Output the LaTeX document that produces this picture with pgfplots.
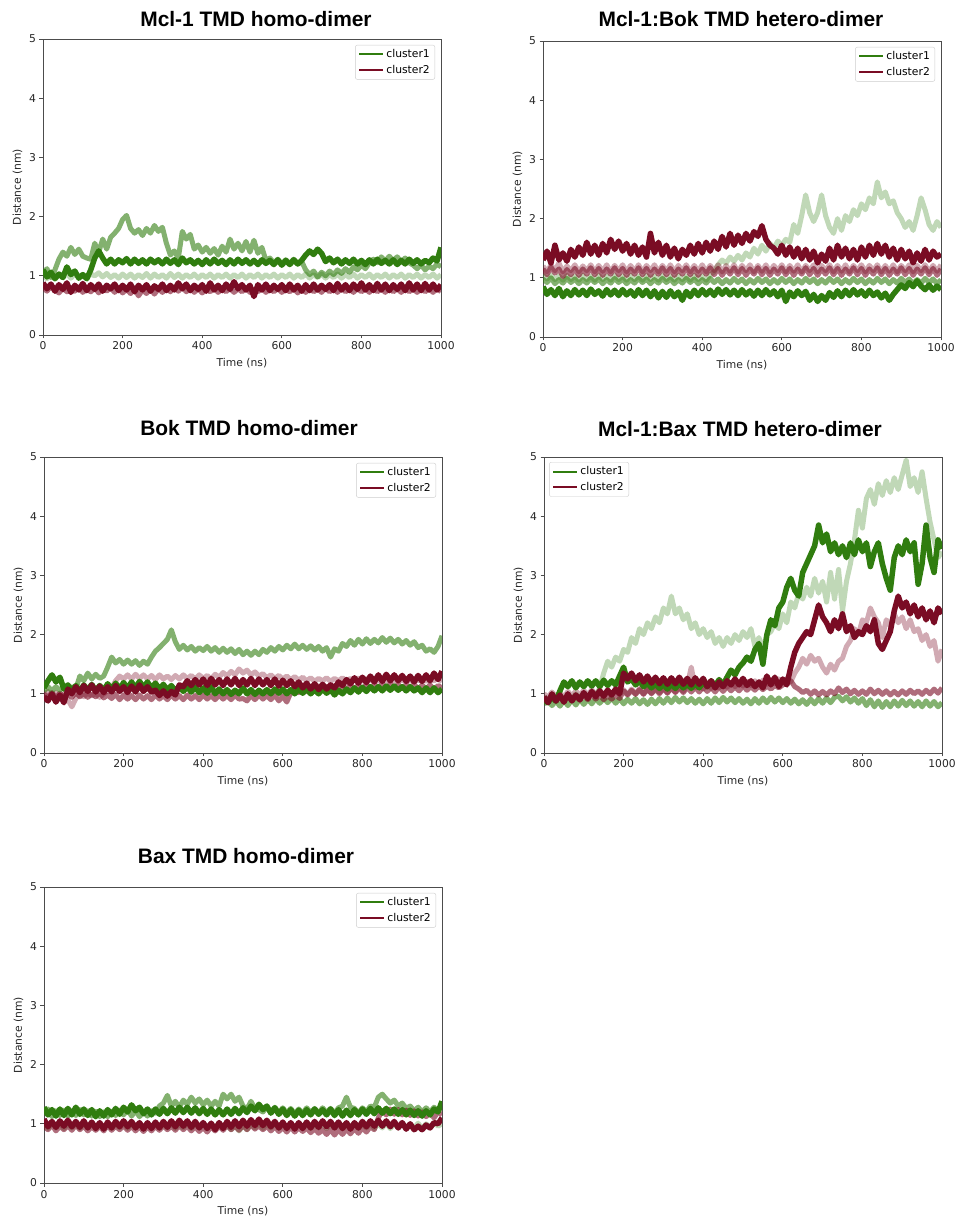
\documentclass[border=0pt]{standalone}
\usepackage{pgfplots}
\pgfplotsset{compat=1.18}
\usepackage{pgfplotstable}
\usepackage{fontspec}
\setmainfont{DejaVu Sans}
\newfontfamily\titlefont{Liberation Sans}
\definecolor{cg}{RGB}{48,125,15}
\definecolor{cr}{RGB}{122,12,36}

\pgfplotstableread{
t g1 g2 g3 r1 r2
0 1.10 1.05 1.00 0.88 0.80
10 0.98 1.12 0.95 0.78 0.74
20 1.06 0.97 1.03 0.86 0.82
30 0.95 1.10 0.96 0.74 0.76
40 1.03 1.28 1.02 0.85 0.71
50 0.97 1.40 0.97 0.77 0.79
60 1.15 1.33 1.04 0.88 0.73
70 1.02 1.48 0.96 0.72 0.80
80 1.08 1.36 1.03 0.84 0.74
90 0.96 1.45 0.97 0.76 0.81
100 1.02 1.33 1.02 0.87 0.72
110 0.95 1.30 0.96 0.75 0.78
120 1.10 1.28 1.03 0.85 0.73
130 1.30 1.55 1.00 0.77 0.80
140 1.42 1.40 1.05 0.86 0.71
150 1.30 1.62 0.98 0.74 0.79
160 1.20 1.45 1.04 0.84 0.74
170 1.28 1.65 0.97 0.78 0.80
180 1.20 1.72 1.02 0.86 0.72
190 1.27 1.80 0.96 0.75 0.79
200 1.22 1.95 1.03 0.84 0.71
210 1.29 2.02 0.97 0.76 0.77
220 1.20 1.80 1.03 0.86 0.70
230 1.28 1.72 0.96 0.73 0.78
240 1.21 1.78 1.02 0.84 0.66
250 1.27 1.68 0.97 0.76 0.76
260 1.20 1.80 1.04 0.85 0.70
270 1.28 1.72 0.96 0.74 0.78
280 1.22 1.85 1.03 0.83 0.69
290 1.27 1.75 0.97 0.77 0.78
300 1.20 1.82 1.02 0.86 0.72
310 1.28 1.55 0.96 0.75 0.79
320 1.21 1.35 1.04 0.84 0.73
330 1.27 1.42 0.97 0.76 0.80
340 1.19 1.30 1.03 0.88 0.74
350 1.30 1.75 0.96 0.78 0.81
360 1.22 1.62 1.02 0.86 0.73
370 1.27 1.70 0.97 0.75 0.79
380 1.20 1.45 1.03 0.84 0.72
390 1.26 1.52 0.96 0.77 0.78
400 1.19 1.40 1.02 0.85 0.71
410 1.27 1.48 0.97 0.74 0.77
420 1.20 1.38 1.03 0.88 0.73
430 1.28 1.46 0.96 0.76 0.79
440 1.21 1.35 1.02 0.84 0.72
450 1.26 1.50 0.97 0.75 0.78
460 1.19 1.40 1.03 0.86 0.73
470 1.27 1.62 0.96 0.77 0.79
480 1.20 1.45 1.02 0.90 0.72
490 1.28 1.55 0.97 0.78 0.78
500 1.21 1.42 1.03 0.85 0.73
510 1.27 1.58 0.96 0.76 0.79
520 1.20 1.40 1.02 0.84 0.72
530 1.26 1.60 0.97 0.65 0.77
540 1.19 1.38 1.03 0.85 0.73
550 1.27 1.48 0.96 0.76 0.79
560 1.21 1.26 1.02 0.86 0.72
570 1.26 1.30 0.97 0.75 0.78
580 1.19 1.22 1.03 0.84 0.73
590 1.27 1.28 0.96 0.77 0.79
600 1.18 1.20 1.02 0.85 0.72
610 1.26 1.27 0.97 0.75 0.77
620 1.19 1.21 1.03 0.86 0.73
630 1.27 1.28 0.96 0.76 0.79
640 1.20 1.20 1.02 0.84 0.71
650 1.26 1.24 0.97 0.74 0.78
660 1.35 1.10 1.03 0.85 0.72
670 1.42 1.02 0.96 0.75 0.79
680 1.36 1.08 1.02 0.86 0.73
690 1.45 0.98 0.97 0.76 0.78
700 1.38 1.06 1.03 0.84 0.72
710 1.24 1.00 0.96 0.77 0.79
720 1.30 1.08 1.02 0.85 0.73
730 1.22 1.02 0.97 0.75 0.78
740 1.28 1.10 1.03 0.87 0.72
750 1.20 1.04 0.96 0.76 0.79
760 1.27 1.12 1.02 0.85 0.73
770 1.21 1.06 0.97 0.75 0.78
780 1.28 1.15 1.03 0.86 0.72
790 1.20 1.10 0.96 0.77 0.79
800 1.26 1.18 1.02 0.88 0.73
810 1.19 1.12 0.97 0.76 0.78
820 1.27 1.22 1.03 0.85 0.72
830 1.20 1.28 0.96 0.75 0.79
840 1.28 1.22 1.02 0.87 0.73
850 1.21 1.32 0.97 0.76 0.78
860 1.26 1.25 1.03 0.86 0.72
870 1.20 1.33 0.96 0.75 0.79
880 1.27 1.26 1.02 0.85 0.73
890 1.19 1.32 0.97 0.77 0.78
900 1.26 1.24 1.03 0.86 0.72
910 1.20 1.30 0.96 0.75 0.79
920 1.28 1.22 1.02 0.88 0.73
930 1.21 1.18 0.97 0.76 0.78
940 1.27 1.12 1.03 0.86 0.72
950 1.20 1.18 0.96 0.75 0.79
960 1.26 1.10 1.02 0.87 0.73
970 1.22 1.16 0.97 0.76 0.78
980 1.30 1.12 1.03 0.86 0.72
990 1.25 1.20 0.96 0.76 0.79
1000 1.48 1.15 1.02 0.85 0.73
}\tA

\pgfplotstableread{
t g1 g2 g3 r1 r2 r3
0 0.85 0.98 1.05 1.30 1.15 1.20
10 0.72 0.92 0.98 1.45 1.05 1.10
20 0.80 1.00 1.04 1.25 1.18 1.22
30 0.70 0.90 0.97 1.55 1.08 1.12
40 0.82 0.97 1.03 1.30 1.15 1.25
50 0.68 0.91 0.96 1.42 1.02 1.10
60 0.78 0.99 1.04 1.28 1.14 1.20
70 0.70 0.92 0.97 1.48 1.05 1.12
80 0.80 0.98 1.03 1.35 1.16 1.22
90 0.71 0.90 0.96 1.52 1.04 1.10
100 0.79 0.97 1.04 1.38 1.15 1.20
110 0.70 0.91 0.97 1.60 1.06 1.12
120 0.81 0.99 1.03 1.40 1.17 1.22
130 0.72 0.92 0.96 1.55 1.05 1.10
140 0.78 0.98 1.04 1.38 1.16 1.21
150 0.69 0.90 0.97 1.58 1.04 1.11
160 0.80 0.97 1.03 1.42 1.15 1.22
170 0.71 0.91 0.96 1.65 1.06 1.10
180 0.79 0.99 1.04 1.48 1.17 1.21
190 0.70 0.92 0.97 1.62 1.05 1.12
200 0.80 0.98 1.03 1.45 1.16 1.22
210 0.71 0.90 0.96 1.58 1.04 1.10
220 0.78 0.97 1.04 1.40 1.15 1.21
230 0.69 0.91 0.97 1.55 1.06 1.11
240 0.80 0.99 1.03 1.38 1.17 1.22
250 0.70 0.92 0.96 1.52 1.05 1.10
260 0.79 0.98 1.04 1.35 1.16 1.21
270 0.68 0.90 0.97 1.75 1.04 1.12
280 0.78 0.97 1.03 1.42 1.15 1.22
290 0.66 0.91 0.96 1.60 1.06 1.10
300 0.77 0.99 1.04 1.38 1.17 1.21
310 0.67 0.92 0.97 1.55 1.05 1.11
320 0.78 0.98 1.03 1.35 1.16 1.22
330 0.68 0.90 0.96 1.50 1.04 1.10
340 0.76 0.97 1.04 1.32 1.15 1.21
350 0.62 0.91 0.97 1.48 1.06 1.12
360 0.77 0.99 1.03 1.38 1.17 1.22
370 0.68 0.92 0.96 1.55 1.05 1.10
380 0.79 0.98 1.04 1.40 1.16 1.21
390 0.70 0.90 0.97 1.58 1.04 1.11
400 0.80 0.97 1.03 1.42 1.15 1.22
410 0.71 0.91 0.96 1.60 1.06 1.10
420 0.79 0.99 1.05 1.45 1.17 1.21
430 0.70 0.92 1.10 1.62 1.05 1.12
440 0.81 0.98 1.22 1.48 1.16 1.22
450 0.72 0.90 1.30 1.70 1.04 1.10
460 0.80 0.97 1.25 1.52 1.15 1.21
470 0.71 0.91 1.35 1.75 1.06 1.11
480 0.79 0.99 1.28 1.55 1.17 1.22
490 0.70 0.92 1.38 1.72 1.05 1.10
500 0.80 0.98 1.30 1.58 1.16 1.21
510 0.71 0.90 1.42 1.75 1.04 1.12
520 0.78 0.97 1.35 1.62 1.15 1.22
530 0.69 0.91 1.50 1.78 1.06 1.10
540 0.79 0.99 1.40 1.70 1.17 1.21
550 0.70 0.92 1.55 1.88 1.05 1.11
560 0.80 0.98 1.45 1.65 1.16 1.22
570 0.71 0.90 1.58 1.55 1.04 1.10
580 0.78 0.97 1.50 1.50 1.15 1.21
590 0.68 0.91 1.62 1.40 1.06 1.12
600 0.79 0.99 1.55 1.55 1.17 1.22
610 0.60 0.92 1.65 1.38 1.05 1.10
620 0.76 0.98 1.60 1.52 1.16 1.21
630 0.68 0.90 1.90 1.35 1.04 1.11
640 0.78 0.97 1.75 1.50 1.15 1.22
650 0.70 0.91 2.05 1.32 1.06 1.10
660 0.77 0.99 2.40 1.48 1.17 1.21
670 0.62 0.92 2.10 1.30 1.05 1.12
680 0.72 0.98 1.95 1.45 1.16 1.22
690 0.60 0.90 2.10 1.25 1.04 1.10
700 0.70 0.97 2.40 1.40 1.15 1.21
710 0.62 0.91 2.05 1.28 1.06 1.12
720 0.75 0.99 1.85 1.50 1.17 1.22
730 0.67 0.92 1.75 1.30 1.05 1.10
740 0.78 0.98 2.00 1.55 1.16 1.21
750 0.68 0.90 1.80 1.35 1.04 1.11
760 0.79 0.97 2.05 1.50 1.15 1.22
770 0.70 0.91 1.95 1.32 1.06 1.10
780 0.80 0.99 2.15 1.48 1.17 1.21
790 0.71 0.92 2.05 1.30 1.05 1.12
800 0.78 0.98 2.25 1.52 1.16 1.22
810 0.69 0.90 2.15 1.35 1.04 1.10
820 0.79 0.97 2.35 1.55 1.15 1.21
830 0.70 0.91 2.25 1.38 1.06 1.12
840 0.76 0.99 2.62 1.58 1.17 1.22
850 0.66 0.92 2.35 1.40 1.05 1.10
860 0.74 0.98 2.45 1.55 1.16 1.21
870 0.62 0.90 2.25 1.35 1.04 1.11
880 0.72 0.97 2.30 1.50 1.15 1.22
890 0.80 0.91 2.10 1.30 1.06 1.10
900 0.88 0.99 2.00 1.48 1.17 1.21
910 0.82 0.92 1.85 1.32 1.05 1.12
920 0.92 0.98 1.95 1.45 1.16 1.22
930 0.85 0.90 1.80 1.25 1.04 1.10
940 0.95 0.97 2.05 1.42 1.15 1.21
950 0.86 0.91 2.35 1.28 1.06 1.12
960 0.80 0.99 2.15 1.48 1.17 1.22
970 0.88 0.92 1.90 1.30 1.05 1.10
980 0.79 0.98 1.80 1.45 1.16 1.21
990 0.86 0.90 1.95 1.35 1.04 1.11
1000 0.80 0.97 1.85 1.40 1.15 1.22
}\tB

\pgfplotstableread{
t g1 g2 r1 r2 r3
0 1.10 1.05 0.95 1.00 0.98
10 1.22 1.12 0.88 0.94 1.04
20 1.32 1.05 1.00 1.02 0.95
30 1.20 1.12 0.86 0.93 1.02
40 1.28 1.06 0.98 1.01 0.94
50 1.08 1.13 0.85 0.95 1.00
60 1.15 1.07 1.08 1.00 0.90
70 1.05 1.12 1.00 0.94 0.78
80 1.14 1.08 1.12 1.02 0.92
90 1.04 1.30 1.02 0.95 1.00
100 1.15 1.22 1.14 1.01 0.95
110 1.06 1.35 1.04 0.94 1.02
120 1.16 1.25 1.15 1.00 0.96
130 1.05 1.33 1.03 0.95 1.01
140 1.14 1.26 1.13 1.02 0.94
150 1.06 1.30 1.02 0.93 1.00
160 1.17 1.45 1.12 0.98 1.05
170 1.07 1.62 1.03 0.92 1.10
180 1.18 1.52 1.14 0.99 1.22
190 1.08 1.58 1.04 0.90 1.30
200 1.19 1.50 1.12 0.98 1.25
210 1.09 1.57 1.02 0.91 1.32
220 1.20 1.50 1.13 0.97 1.25
230 1.10 1.56 1.03 0.90 1.33
240 1.21 1.48 1.15 0.98 1.26
250 1.11 1.55 1.04 0.91 1.32
260 1.20 1.50 1.12 0.97 1.25
270 1.10 1.62 1.03 0.90 1.31
280 1.18 1.72 1.06 0.98 1.24
290 1.08 1.78 0.97 0.91 1.32
300 1.16 1.85 1.05 0.97 1.25
310 1.06 1.92 0.96 0.90 1.30
320 1.14 2.08 1.04 0.98 1.24
330 1.05 1.88 0.98 0.91 1.31
340 1.13 1.75 1.15 0.97 1.25
350 1.04 1.82 1.12 0.90 1.32
360 1.12 1.74 1.22 0.98 1.26
370 1.03 1.80 1.14 0.91 1.31
380 1.11 1.72 1.24 0.97 1.25
390 1.02 1.78 1.15 0.90 1.32
400 1.10 1.73 1.25 0.98 1.26
410 1.01 1.80 1.14 0.91 1.31
420 1.12 1.72 1.26 0.97 1.25
430 1.00 1.78 1.15 0.90 1.33
440 1.08 1.70 1.24 0.98 1.28
450 1.00 1.77 1.14 0.91 1.36
460 1.07 1.70 1.25 0.97 1.30
470 0.99 1.76 1.15 0.90 1.38
480 1.06 1.68 1.26 0.98 1.32
490 1.00 1.75 1.14 0.91 1.42
500 1.10 1.66 1.24 0.92 1.35
510 1.00 1.72 1.15 0.88 1.40
520 1.07 1.65 1.26 0.97 1.32
530 0.99 1.72 1.14 0.90 1.37
540 1.06 1.66 1.25 0.98 1.30
550 1.00 1.75 1.15 0.91 1.34
560 1.07 1.70 1.24 0.97 1.27
570 1.00 1.78 1.14 0.90 1.32
580 1.08 1.72 1.25 0.98 1.26
590 1.01 1.80 1.13 0.88 1.31
600 1.08 1.74 1.23 0.96 1.25
610 1.00 1.82 1.14 0.86 1.30
620 1.07 1.76 1.22 1.02 1.24
630 1.00 1.84 1.12 1.08 1.29
640 1.08 1.76 1.20 1.02 1.23
650 1.01 1.82 1.10 1.10 1.28
660 1.08 1.75 1.18 1.04 1.22
670 1.00 1.81 1.08 1.12 1.27
680 1.07 1.74 1.17 1.05 1.21
690 1.00 1.80 1.07 1.13 1.26
700 1.08 1.72 1.16 1.06 1.22
710 1.01 1.78 1.08 1.12 1.27
720 1.07 1.62 1.15 1.05 1.21
730 0.98 1.76 1.10 1.13 1.26
740 1.06 1.72 1.20 1.06 1.22
750 1.00 1.85 1.14 1.14 1.27
760 1.08 1.80 1.24 1.07 1.21
770 1.02 1.90 1.17 1.15 1.26
780 1.10 1.82 1.27 1.08 1.22
790 1.03 1.92 1.18 1.15 1.27
800 1.11 1.84 1.28 1.08 1.21
810 1.04 1.93 1.19 1.16 1.26
820 1.12 1.85 1.30 1.09 1.22
830 1.05 1.92 1.20 1.16 1.27
840 1.12 1.86 1.32 1.09 1.21
850 1.05 1.95 1.21 1.17 1.26
860 1.13 1.87 1.33 1.10 1.22
870 1.06 1.94 1.22 1.17 1.27
880 1.13 1.86 1.32 1.10 1.21
890 1.06 1.92 1.22 1.16 1.26
900 1.12 1.84 1.31 1.09 1.22
910 1.05 1.90 1.21 1.16 1.27
920 1.12 1.82 1.30 1.09 1.21
930 1.05 1.88 1.20 1.16 1.26
940 1.10 1.78 1.31 1.08 1.22
950 1.02 1.82 1.21 1.15 1.27
960 1.10 1.72 1.32 1.08 1.21
970 1.02 1.76 1.22 1.15 1.26
980 1.10 1.70 1.35 1.07 1.22
990 1.02 1.80 1.24 1.14 1.27
1000 1.08 1.98 1.38 1.10 1.20
}\tC

\pgfplotstableread{
t g1 g2 g3 r1 r2 r3
0 0.92 0.95 0.82 0.95 1.00 0.92
10 0.85 0.88 0.90 0.85 0.94 0.86
20 0.95 0.97 0.80 1.00 1.03 0.94
30 0.88 0.90 0.88 0.88 0.95 0.87
40 1.05 0.98 0.79 0.98 1.02 0.95
50 1.20 0.91 0.89 0.86 0.94 0.86
60 1.12 0.99 0.80 1.00 1.04 0.96
70 1.22 0.92 0.90 0.88 0.96 0.88
80 1.10 1.00 0.81 0.98 1.05 0.97
90 1.20 0.93 0.91 0.90 0.97 0.89
100 1.12 1.01 0.82 1.02 1.06 0.98
110 1.22 0.94 0.91 0.92 0.98 0.90
120 1.13 1.02 0.83 1.04 1.07 0.99
130 1.22 0.96 0.92 0.95 0.99 0.91
140 1.12 1.10 0.84 1.05 1.06 0.98
150 1.23 1.35 0.92 0.96 0.98 0.90
160 1.14 1.55 0.85 1.06 1.07 0.97
170 1.22 1.45 0.93 0.98 0.99 0.91
180 1.15 1.62 0.84 1.08 1.06 0.98
190 1.30 1.55 0.92 1.00 0.98 0.92
200 1.45 1.75 0.83 1.35 1.07 1.05
210 1.20 1.70 0.91 1.25 0.99 0.98
220 1.25 1.95 0.84 1.35 1.08 1.06
230 1.15 1.85 0.92 1.22 1.00 0.99
240 1.22 2.10 0.83 1.32 1.09 1.07
250 1.12 2.00 0.90 1.20 1.00 0.99
260 1.18 2.20 0.82 1.30 1.08 1.08
270 1.10 2.10 0.91 1.18 1.01 1.00
280 1.17 2.30 0.83 1.28 1.09 1.08
290 1.09 2.20 0.92 1.17 1.02 1.00
300 1.16 2.45 0.84 1.27 1.10 1.09
310 1.08 2.35 0.93 1.16 1.02 1.01
320 1.17 2.65 0.85 1.27 1.11 1.10
330 1.09 2.35 0.94 1.17 1.03 1.02
340 1.18 2.45 0.86 1.28 1.12 1.10
350 1.10 2.25 0.93 1.16 1.04 1.02
360 1.17 2.35 0.85 1.26 1.15 1.11
370 1.09 2.10 0.92 1.15 1.45 1.03
380 1.18 2.20 0.84 1.27 1.10 1.11
390 1.10 2.00 0.91 1.16 1.15 1.03
400 1.20 2.10 0.83 1.26 1.08 1.12
410 1.12 1.95 0.92 1.12 1.16 1.04
420 1.22 2.05 0.84 1.22 1.09 1.11
430 1.13 1.85 0.93 1.10 1.17 1.03
440 1.24 1.95 0.85 1.20 1.10 1.12
450 1.15 1.80 0.94 1.12 1.18 1.04
460 1.28 1.95 0.86 1.22 1.11 1.12
470 1.40 1.85 0.93 1.15 1.19 1.05
480 1.32 2.00 0.85 1.25 1.12 1.12
490 1.45 1.90 0.92 1.15 1.20 1.05
500 1.52 2.05 0.84 1.26 1.13 1.13
510 1.62 1.95 0.91 1.14 1.21 1.06
520 1.55 2.10 0.83 1.22 1.14 1.12
530 1.75 1.80 0.92 1.12 1.22 1.06
540 1.85 1.95 0.84 1.20 1.15 1.13
550 1.50 1.75 0.93 1.10 1.23 1.07
560 2.00 2.00 0.85 1.30 1.16 1.13
570 2.25 2.05 0.94 1.15 1.24 1.08
580 2.15 2.20 0.86 1.28 1.17 1.14
590 2.45 2.10 0.93 1.12 1.25 1.10
600 2.55 2.35 0.85 1.25 1.18 1.15
610 2.80 2.20 0.92 1.15 1.26 1.18
620 2.95 2.55 0.84 1.45 1.20 1.22
630 2.75 2.45 0.91 1.70 1.35 1.12
640 2.65 2.70 0.83 1.85 1.45 1.08
650 3.05 2.60 0.90 1.95 1.60 1.02
660 3.20 2.80 0.82 2.05 1.50 1.06
670 3.35 2.65 0.91 2.00 1.65 0.99
680 3.50 2.95 0.83 2.25 1.55 1.05
690 3.85 2.70 0.92 2.50 1.60 0.98
700 3.55 2.90 0.84 2.30 1.45 1.04
710 3.70 2.55 0.93 2.20 1.35 0.98
720 3.40 3.05 0.85 2.05 1.50 1.05
730 3.55 2.60 0.94 2.25 1.40 1.00
740 3.35 3.10 0.96 2.10 1.55 1.10
750 3.50 2.40 0.88 2.35 1.60 1.02
760 3.30 2.90 0.95 2.05 1.80 1.08
770 3.55 3.20 0.86 2.15 1.90 1.00
780 3.35 3.60 0.93 1.95 2.10 1.06
790 3.60 4.10 0.84 2.05 2.00 0.99
800 3.40 3.80 0.92 2.00 2.25 1.05
810 3.55 4.30 0.80 2.15 2.20 0.99
820 3.15 4.45 0.90 2.05 2.45 1.08
830 3.40 4.20 0.78 2.25 2.30 1.00
840 3.55 4.55 0.88 1.85 2.20 1.06
850 3.20 4.35 0.77 1.75 1.95 0.99
860 2.95 4.60 0.87 1.90 2.25 1.05
870 2.75 4.40 0.78 2.05 2.15 0.98
880 3.30 4.65 0.88 2.40 2.35 1.04
890 3.50 4.45 0.79 2.65 2.20 0.98
900 3.35 4.70 0.89 2.45 2.30 1.05
910 3.60 4.95 0.80 2.55 2.10 0.99
920 3.40 4.50 0.88 2.35 2.25 1.06
930 3.55 4.65 0.79 2.50 2.05 1.00
940 2.85 4.40 0.87 2.30 2.10 1.05
950 3.20 4.75 0.78 2.45 1.90 0.99
960 3.85 4.30 0.88 2.25 2.00 1.06
970 3.30 3.90 0.79 2.40 1.80 1.00
980 3.05 3.60 0.87 2.20 1.90 1.08
990 3.60 3.30 0.78 2.45 1.55 1.01
1000 3.45 3.40 0.85 2.35 1.75 1.10
}\tD

\pgfplotstableread{
t g1 g2 g3 r1 r2
0 1.28 1.15 1.00 1.08 0.95
10 1.15 1.25 0.92 0.95 0.90
20 1.24 1.12 1.02 1.04 0.98
30 1.13 1.22 0.93 0.94 0.88
40 1.25 1.14 1.01 1.05 0.96
50 1.14 1.23 0.92 0.96 0.90
60 1.26 1.13 1.00 1.06 0.97
70 1.15 1.22 0.93 0.95 0.89
80 1.28 1.14 1.01 1.04 0.98
90 1.16 1.24 0.92 0.94 0.90
100 1.25 1.15 1.00 1.05 0.96
110 1.14 1.22 0.93 0.93 0.88
120 1.24 1.13 1.02 1.03 0.95
130 1.12 1.21 0.92 0.92 0.89
140 1.22 1.12 1.00 1.02 0.96
150 1.13 1.20 0.93 0.91 0.88
160 1.24 1.12 1.01 1.03 0.97
170 1.15 1.21 0.92 0.93 0.89
180 1.26 1.14 1.00 1.04 0.96
190 1.16 1.23 0.93 0.95 0.90
200 1.28 1.15 1.02 1.05 0.97
210 1.20 1.24 0.92 0.95 0.89
220 1.32 1.13 1.00 1.04 0.96
230 1.22 1.22 0.93 0.93 0.88
240 1.28 1.12 1.01 1.02 0.95
250 1.17 1.20 0.92 0.91 0.87
260 1.25 1.13 1.00 1.02 0.95
270 1.15 1.22 0.93 0.92 0.88
280 1.25 1.18 1.02 1.03 0.96
290 1.16 1.30 0.92 0.93 0.89
300 1.26 1.35 1.00 1.04 0.97
310 1.17 1.48 0.93 0.94 0.90
320 1.27 1.30 1.01 1.05 0.96
330 1.18 1.38 0.92 0.95 0.89
340 1.28 1.28 1.00 1.06 0.97
350 1.19 1.40 0.93 0.96 0.90
360 1.28 1.33 1.02 1.05 0.96
370 1.18 1.45 0.92 0.94 0.88
380 1.27 1.35 1.00 1.04 0.95
390 1.17 1.42 0.93 0.93 0.87
400 1.26 1.32 1.01 1.02 0.94
410 1.16 1.40 0.92 0.92 0.86
420 1.25 1.30 1.00 1.01 0.95
430 1.15 1.38 0.93 0.90 0.88
440 1.24 1.30 1.02 1.02 0.96
450 1.15 1.50 0.92 0.92 0.89
460 1.25 1.42 1.00 1.04 0.97
470 1.16 1.50 0.90 0.94 0.90
480 1.26 1.38 0.98 1.05 0.96
490 1.17 1.45 0.88 0.95 0.89
500 1.27 1.30 0.97 1.06 0.97
510 1.19 1.25 0.90 0.96 0.90
520 1.30 1.38 1.00 1.07 0.98
530 1.22 1.26 0.93 0.97 0.91
540 1.33 1.24 1.01 1.08 0.97
550 1.24 1.20 0.92 0.97 0.90
560 1.30 1.28 1.00 1.06 0.96
570 1.18 1.20 0.93 0.95 0.88
580 1.27 1.28 1.02 1.04 0.95
590 1.16 1.19 0.92 0.93 0.87
600 1.25 1.27 1.00 1.03 0.94
610 1.14 1.18 0.93 0.92 0.86
620 1.24 1.26 1.01 1.02 0.95
630 1.13 1.17 0.92 0.91 0.86
640 1.23 1.25 1.00 1.02 0.94
650 1.14 1.18 0.93 0.92 0.87
660 1.24 1.27 1.02 1.03 0.93
670 1.15 1.19 0.92 0.93 0.85
680 1.25 1.26 1.00 1.04 0.92
690 1.16 1.18 0.93 0.94 0.84
700 1.24 1.27 1.01 1.05 0.90
710 1.15 1.19 0.92 0.95 0.82
720 1.25 1.26 1.00 1.04 0.90
730 1.14 1.18 0.93 0.93 0.81
740 1.24 1.27 1.02 1.03 0.90
750 1.13 1.30 0.92 0.92 0.82
760 1.23 1.45 1.00 1.02 0.91
770 1.14 1.28 0.93 0.91 0.83
780 1.24 1.26 1.01 1.02 0.92
790 1.15 1.18 0.92 0.93 0.84
800 1.25 1.27 1.00 1.04 0.93
810 1.16 1.20 0.93 0.95 0.86
820 1.26 1.30 1.02 1.05 0.95
830 1.17 1.28 0.92 0.96 0.90
840 1.27 1.45 1.00 1.06 1.10
850 1.18 1.50 0.93 0.96 1.22
860 1.26 1.42 1.01 1.05 1.15
870 1.17 1.35 0.92 0.95 1.25
880 1.25 1.40 1.00 1.04 1.16
890 1.16 1.30 0.93 0.93 1.24
900 1.24 1.35 1.02 1.02 1.15
910 1.15 1.26 0.92 0.91 1.23
920 1.23 1.30 1.00 1.00 1.14
930 1.14 1.22 0.93 0.90 1.22
940 1.22 1.28 1.01 0.96 1.13
950 1.13 1.20 0.92 0.90 1.20
960 1.22 1.27 1.00 0.98 1.12
970 1.15 1.20 0.93 0.93 1.18
980 1.25 1.28 1.02 1.02 1.10
990 1.20 1.22 0.96 1.00 1.20
1000 1.38 1.30 1.00 1.10 1.15
}\tE

\pgfplotsset{
  legend image code/.code={\draw[#1] (0bp,0bp) -- (24bp,0bp);},
  panel/.style={
    scale only axis, width=398bp, height=296bp,
    xmin=0, xmax=1000, ymin=0, ymax=5,
    xtick={0,200,...,1000}, ytick={0,1,...,5},
    tick align=outside, tick pos=left, major tick length=3.5bp,
    axis line style={black!70, line width=0.8bp},
    every tick/.style={black!70, line width=0.8bp},
    ticklabel style={font=\fontsize{10.8}{13}\selectfont, text=black!85},
    /pgf/number format/assume math mode=true,
    /pgf/number format/1000 sep={},
    xlabel={Time (ns)}, ylabel={Distance (nm)},
    label style={font=\fontsize{10.8}{13}\selectfont, text=black!85},
    xlabel style={at={(axis description cs:0.5,-0.095)}, anchor=center},
    ylabel style={at={(axis description cs:-0.064,0.5)}, anchor=center},
    legend style={draw=black!20, rounded corners=2bp, fill=white,
      font=\fontsize{10.8}{13}\selectfont, inner xsep=3bp, inner ysep=2.5bp,
      row sep=2bp, at={(0.985,0.98)}, anchor=north east, cells={anchor=west}},
  },
  dg/.style={cg, line width=5.5bp, line join=round, forget plot},
  mg/.style={cg, opacity=0.6, line width=5bp, line join=round, forget plot},
  lg/.style={cg, opacity=0.3, line width=5bp, line join=round, forget plot},
  dr/.style={cr, line width=5.5bp, line join=round, forget plot},
  mr/.style={cr, opacity=0.6, line width=5bp, line join=round, forget plot},
  lr/.style={cr, opacity=0.35, line width=5bp, line join=round, forget plot},
}
\newcommand{\legs}{%
  \addlegendimage{cg, line width=2bp}\addlegendentry{cluster1}
  \addlegendimage{cr, line width=2bp}\addlegendentry{cluster2}}

\begin{document}
\begin{tikzpicture}
\path[use as bounding box] (0,0) rectangle (959bp,1218bp);

% Panel 1
\begin{axis}[panel, at={(43bp,883bp)}, anchor=south west]
\addplot[lg] table[x=t,y=g3]{\tA};
\addplot[mg] table[x=t,y=g2]{\tA};
\addplot[mr] table[x=t,y=r2]{\tA};
\addplot[dr] table[x=t,y=r1]{\tA};
\addplot[dg] table[x=t,y=g1]{\tA};
\legs
\end{axis}

% Panel 2
\begin{axis}[panel, at={(543bp,881bp)}, anchor=south west]
\addplot[lg] table[x=t,y=g3]{\tB};
\addplot[mg] table[x=t,y=g2]{\tB};
\addplot[lr] table[x=t,y=r3]{\tB};
\addplot[mr] table[x=t,y=r2]{\tB};
\addplot[dr] table[x=t,y=r1]{\tB};
\addplot[dg] table[x=t,y=g1]{\tB};
\legs
\end{axis}

% Panel 3
\begin{axis}[panel, at={(44bp,465bp)}, anchor=south west]
\addplot[lr] table[x=t,y=r3]{\tC};
\addplot[mr] table[x=t,y=r2]{\tC};
\addplot[mg] table[x=t,y=g2]{\tC};
\addplot[dg] table[x=t,y=g1]{\tC};
\addplot[dr] table[x=t,y=r1]{\tC};
\legs
\end{axis}

% Panel 4
\begin{axis}[panel, at={(544bp,465bp)}, anchor=south west,
  legend style={at={(0.013,0.983)}, anchor=north west}]
\addplot[lg] table[x=t,y=g2]{\tD};
\addplot[mg] table[x=t,y=g3]{\tD};
\addplot[lr] table[x=t,y=r2]{\tD};
\addplot[mr] table[x=t,y=r3]{\tD};
\addplot[dg] table[x=t,y=g1]{\tD};
\addplot[dr] table[x=t,y=r1]{\tD};
\legs
\end{axis}

% Panel 5
\begin{axis}[panel, at={(44bp,35bp)}, anchor=south west]
\addplot[lg] table[x=t,y=g3]{\tE};
\addplot[mg] table[x=t,y=g2]{\tE};
\addplot[mr] table[x=t,y=r2]{\tE};
\addplot[dg] table[x=t,y=g1]{\tE};
\addplot[dr] table[x=t,y=r1]{\tE};
\legs
\end{axis}

\begin{scope}[every node/.style={font=\titlefont\bfseries\fontsize{21}{25}\selectfont, anchor=base, inner sep=0pt}]
\node at (256bp,1191bp) {Mcl-1 TMD homo-dimer};
\node at (741bp,1191bp) {Mcl-1:Bok TMD hetero-dimer};
\node at (249bp,782bp) {Bok TMD homo-dimer};
\node at (740bp,781bp) {Mcl-1:Bax TMD hetero-dimer};
\node at (246bp,354bp) {Bax TMD homo-dimer};
\end{scope}
\end{tikzpicture}
\end{document}
